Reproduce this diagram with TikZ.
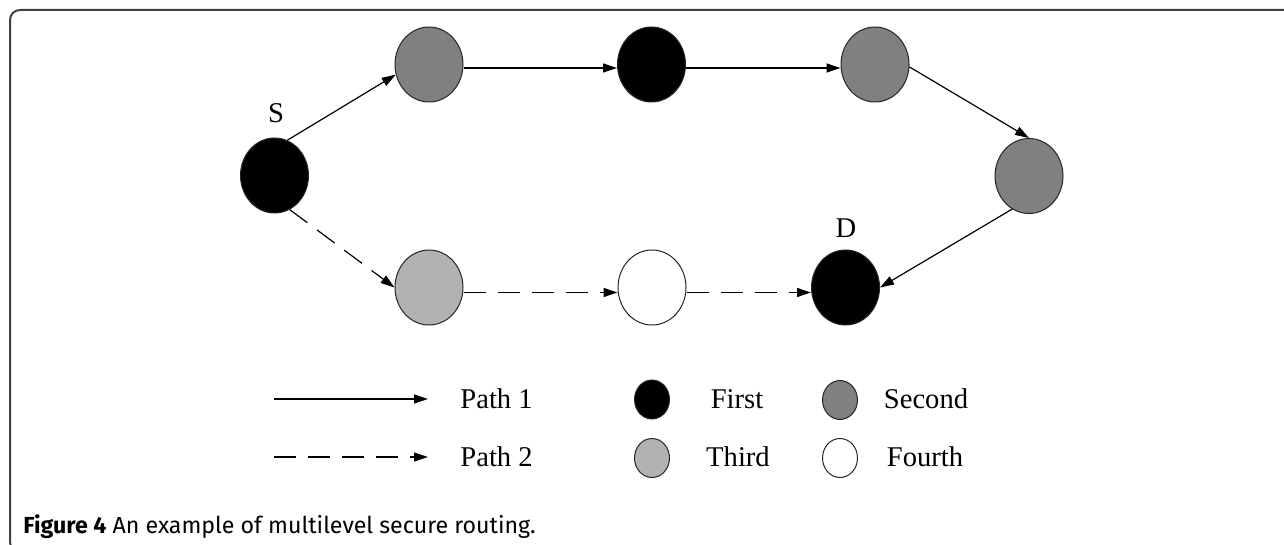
\documentclass[tikz,border=0pt]{standalone}
\usepackage{fontspec}
\setmainfont{Liberation Serif}
\newfontfamily\capfont{Fira Sans}
\usetikzlibrary{shapes.geometric,arrows.meta}
\definecolor{lvlsecond}{gray}{0.5}
\definecolor{lvlthird}{gray}{0.7}
\definecolor{framegray}{gray}{0.25}
\begin{document}
\begin{tikzpicture}[x=0.5pt,y=-0.5pt,
  nodebox/.style={ellipse,draw=black!85,line width=0.5pt,inner sep=0pt,
    minimum width=34pt,minimum height=37.5pt},
  keybox/.style={ellipse,draw=black!85,line width=0.5pt,inner sep=0pt,
    minimum width=17.5pt,minimum height=19.5pt},
  lvlA/.style={fill=black},
  lvlB/.style={fill=lvlsecond},
  lvlC/.style={fill=lvlthird},
  lvlD/.style={fill=white},
  pathone/.style={line width=0.6pt,-{Triangle[length=7pt,width=4.5pt]}},
  pathtwo/.style={pathone,dash pattern=on 11pt off 6pt},
  lbl/.style={font=\fontsize{14.3}{17}\selectfont,inner sep=0pt}]
\useasboundingbox (0,0) rectangle (1284,545);
% frame: rounded on the left, open on the right
\draw[framegray,line width=1pt,rounded corners=5pt]
  (1300,10) -- (10,10) -- (10,552) -- (40,552);
% routing nodes
\node[nodebox,lvlA] (s) at (274.5,175.5) {};
\node[nodebox,lvlB] (a) at (429,64.5) {};
\node[nodebox,lvlA] (b) at (651.5,64.5) {};
\node[nodebox,lvlB] (c) at (875,64.5) {};
\node[nodebox,lvlB] (e) at (1029,176) {};
\node[nodebox,lvlC] (f) at (429,287.5) {};
\node[nodebox,lvlD] (g) at (652,287.5) {};
\node[nodebox,lvlA] (d) at (845.5,287.5) {};
\node[lbl] (slbl) at (276,113) {S};
\node[lbl] (dlbl) at (846,228) {D};
% path 1
\draw[pathone] (s.70) -- (a.197);
\draw[pathone] ([yshift=-1.75pt]a.east) -- ([yshift=-1.75pt]b.west);
\draw[pathone] ([yshift=-1.75pt]b.east) -- ([yshift=-1.75pt]c.west);
\draw[pathone] (c.-4) -- (e.north);
\draw[pathone] (e.-117) -- (d.east);
% path 2
\draw[pathtwo] (s.-66) -- (f.west);
\draw[pathtwo] ([yshift=-2.5pt]f.east) -- ([yshift=-2.5pt]g.west);
\draw[pathtwo] ([yshift=-2.5pt]g.east) -- ([yshift=-2.5pt]d.west);
% legend
\coordinate (p1a) at (274,399);
\coordinate (p1b) at (428,399);
\coordinate (p2a) at (274,457);
\coordinate (p2b) at (428,457);
\draw[pathone] (p1a) -- (p1b);
\draw[pathtwo] (p2a) -- (p2b);
\node[lbl,anchor=west] (t1) at (460,399) {Path 1};
\node[lbl,anchor=west] (t2) at (460,457) {Path 2};
\node[keybox,lvlA] (k1) at (652,399.5) {};
\node[keybox,lvlB] (k2) at (840,400) {};
\node[keybox,lvlC] (k3) at (652,458) {};
\node[keybox,lvlD] (k4) at (840,458) {};
\node[lbl] (t3) at (737,399) {First};
\node[lbl] (t4) at (926,399) {Second};
\node[lbl] (t5) at (738,457) {Third};
\node[lbl] (t6) at (925,457) {Fourth};
% caption
\node[anchor=base west,inner sep=0pt,font=\capfont\fontsize{11.6}{13}\selectfont] (cap) at (23,533)
  {\textbf{Figure 4} An example of multilevel secure routing.};
\end{tikzpicture}
\end{document}
